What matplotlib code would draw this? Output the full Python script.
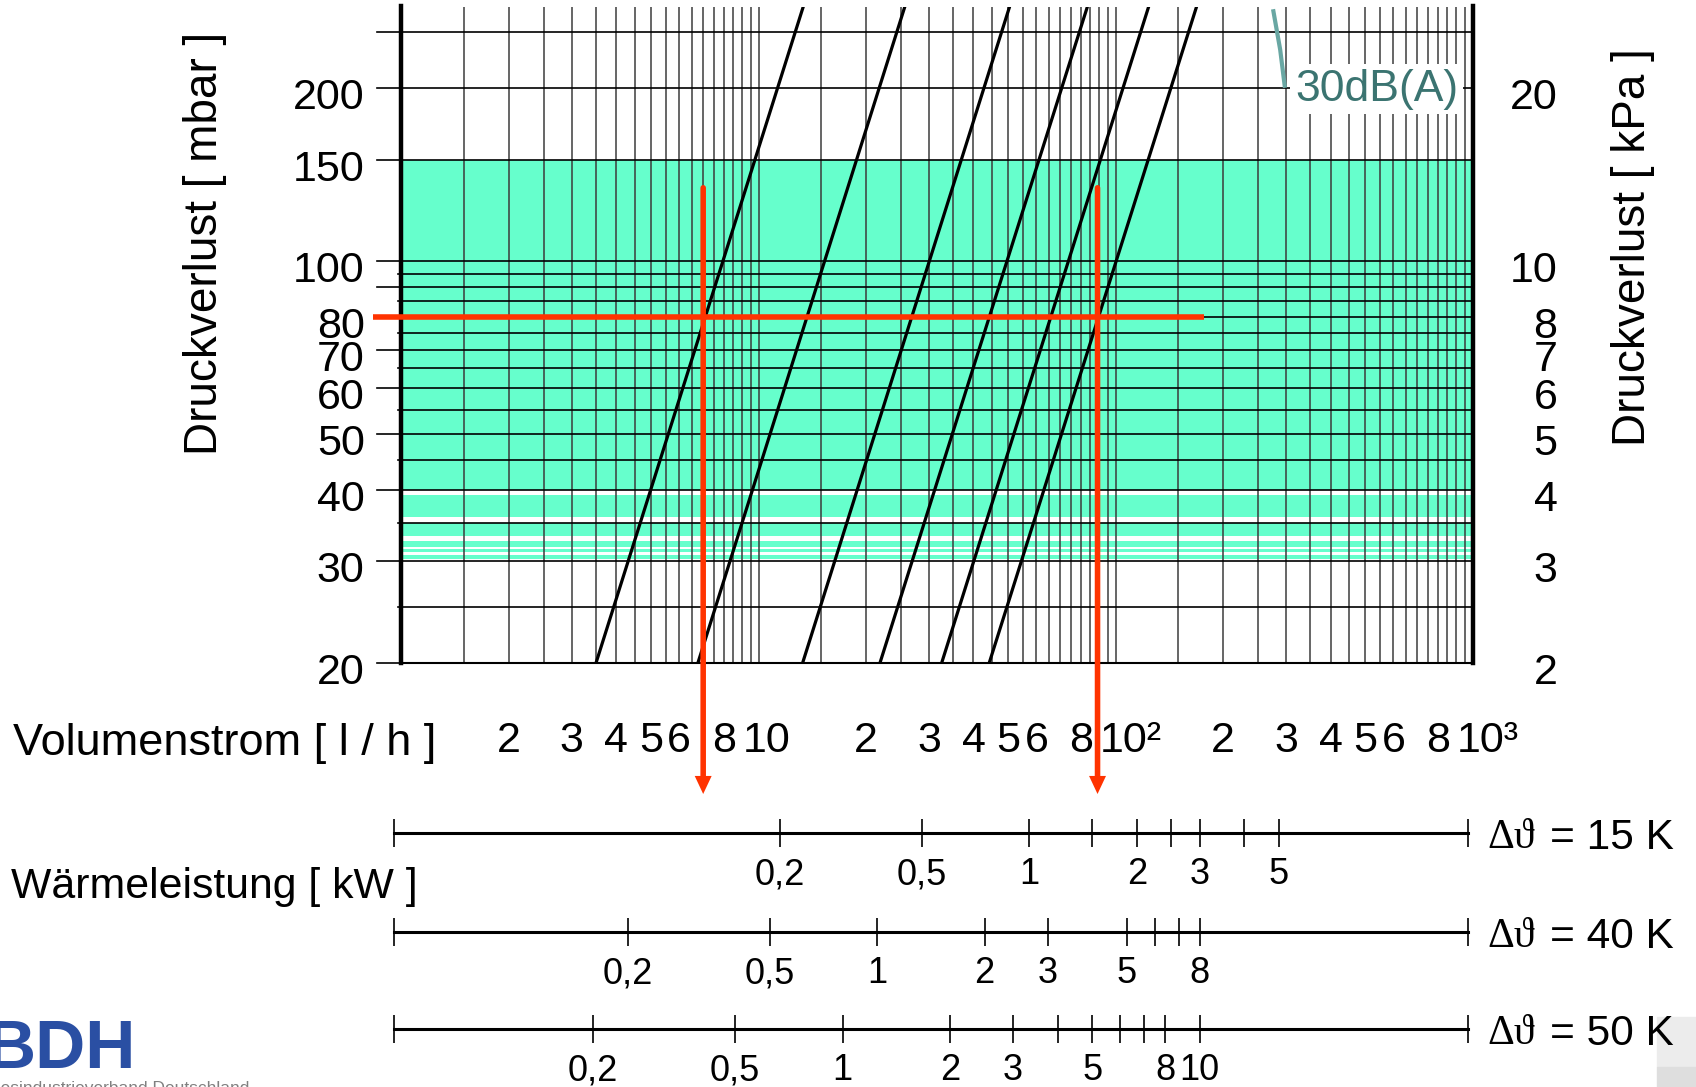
import matplotlib
matplotlib.use("Agg")
import matplotlib.pyplot as plt
from matplotlib.patches import Rectangle
from matplotlib.ticker import NullLocator

plt.rcParams["font.family"] = ["Liberation Sans", "DejaVu Sans"]

W, H = 1696, 1087

########################################
# Data
########################################

# Volumenstrom [l/h] axis and Druckverlust [mbar] axis
FLOW_LIM = (1, 1000)
DP_LIM = (20, 277)

# valve presets: flow at 20 mbar and at 277 mbar
CURVE_DP = [20, 277]
CURVE_Q_LOW = [3.51, 6.77, 13.3, 21.9, 32.6, 44.3]
CURVE_Q_HIGH = [13.35, 25.7, 50.5, 83.4, 123.8, 168.6]

# recommended range (green), with the white gaps near 30..40 mbar
GREEN_BANDS = [(40, 150), (35.9, 39.1), (33.2, 35.0),
               (31.8, 32.5), (31.2, 31.5), (30.3, 30.8)]

H_MAJOR = [20, 30, 40, 50, 60, 70, 80, 90, 100, 150, 200, 250]
H_MINOR = [25, 35, 45, 55, 65, 75, 85, 95]
V_STEPS = [1, 1.5, 2, 2.5, 3, 3.5, 4, 4.5, 5, 5.5, 6, 6.5, 7, 7.5, 8, 8.5, 9, 9.5]
V_DECADES = [1, 10, 100]

MBAR_TICKS = [20, 30, 40, 50, 60, 70, 80, 100, 150, 200]
KPA_TICKS = [2, 3, 4, 5, 6, 7, 8, 10, 20]

FLOW_TICKS = [2, 3, 4, 5, 6, 8,
              20, 30, 40, 50, 60, 80,
              200, 300, 400, 500, 600, 800]
FLOW_LABELS = ["2", "3", "4", "5", "6", "8",
               "2", "3", "4", "5", "6", "8",
               "2", "3", "4", "5", "6", "8"]
DECADE_TICKS = [10, 100, 1000]
DECADE_LABELS = ["10", "10²", "10³"]

# example reading (red)
RED_DP = 80
RED_Q = [7.0, 89.0]
RED_H_Q = [0.83, 177]
RED_V_TOP = 134

# 30 dB(A) limit mark
DB30_Q = [276, 289, 298]
DB30_DP = [274, 233, 200]

# Wärmeleistung scales
SCALE_DT = [15, 40, 50]
SCALE_TICKS = [[0.2, 0.5, 1, 1.5, 2, 2.5, 3, 4, 5],
               [0.2, 0.5, 1, 2, 3, 5, 6, 7, 8],
               [0.2, 0.5, 1, 2, 3, 4, 5, 6, 7, 8, 10]]
SCALE_LABELED = [[0.2, 0.5, 1, 2, 3, 5],
                 [0.2, 0.5, 1, 2, 3, 5, 8],
                 [0.2, 0.5, 1, 2, 3, 5, 8, 10]]
SCALE_FLOW_ENDS = (0.952, 968)

GREEN = "#66FFCC"
RED = "#FF3300"


def fx(x):
    return x / W


def fy(y):
    return 1 - y / H


def kw_label(v):
    return ("%g" % v).replace(".", ",")


fig = plt.figure(figsize=(W / 100, H / 100), dpi=100)

########################################
# Main diagram
########################################

ax = fig.add_axes([fx(401.4), fy(662.6), (1472.7 - 401.4) / W, (662.6 - 6.5) / H])
ax.set_xscale("log")
ax.set_yscale("log")
ax.set_xlim(*FLOW_LIM)
ax.set_ylim(*DP_LIM)

for lo, hi in GREEN_BANDS:
    ax.axhspan(lo, hi, color=GREEN, lw=0, zorder=0)

for d in V_DECADES:
    for s in V_STEPS:
        ax.axvline(s * d, color="#3c3c3c", lw=1.1, zorder=1)

for v in H_MAJOR:
    ax.axhline(v, xmin=-0.0224, xmax=1, color="black", lw=1.2,
               clip_on=False, zorder=1.5)
for v in H_MINOR:
    ax.axhline(v, xmin=-0.0035, xmax=1, color="black", lw=1.2,
               clip_on=False, zorder=1.5)

for lo, hi in zip(CURVE_Q_LOW, CURVE_Q_HIGH):
    ax.plot([lo, hi], CURVE_DP, color="black", lw=2.3, zorder=3,
            solid_capstyle="butt")

ax.spines["top"].set_visible(False)
ax.spines["left"].set_linewidth(3.2)
ax.spines["right"].set_linewidth(3.2)
ax.spines["bottom"].set_linewidth(1.5)
for s in ["left", "right", "bottom"]:
    ax.spines[s].set_zorder(6)

ax.xaxis.set_minor_locator(NullLocator())
ax.yaxis.set_minor_locator(NullLocator())
ax.set_xticks(FLOW_TICKS, FLOW_LABELS)
ax.set_yticks([])
ax.tick_params(axis="x", length=0, pad=42, labelsize=31)

# decade labels sit a little right of their tick, as in the original
for q, lbl, dx in zip(DECADE_TICKS, DECADE_LABELS, [5.8, 10.8, 10.8]):
    ax.annotate(lbl, xy=(q, 0), xycoords=("data", "axes fraction"),
                xytext=(dx, -42), textcoords="offset points",
                ha="center", va="top", fontsize=31, annotation_clip=False)

# pressure tick labels on both sides
for v in MBAR_TICKS:
    ax.annotate(str(v), xy=(0, v), xycoords=("axes fraction", "data"),
                xytext=(-26.5, -7.2), textcoords="offset points",
                ha="right", va="center", fontsize=31)
for k in KPA_TICKS:
    ax.annotate(str(k), xy=(1, k * 10), xycoords=("axes fraction", "data"),
                xytext=(61, -7.2), textcoords="offset points",
                ha="right", va="center", fontsize=31)

# 30 dB(A) mark
ax.plot(DB30_Q, DB30_DP, color="#69A7A3", lw=3, zorder=5,
        solid_capstyle="butt")
ax.text(318, 190, "30dB(A)", color="#3B7471", fontsize=32,
        ha="left", va="baseline", zorder=4,
        bbox=dict(facecolor="white", edgecolor="none", pad=3.5))

# red example reading
ax.plot(RED_H_Q, [RED_DP, RED_DP], color=RED, lw=4, clip_on=False,
        zorder=7, solid_capstyle="butt")
for q in RED_Q:
    ax.annotate("", xy=(q, fy(776)), xycoords=("data", "figure fraction"),
                xytext=(q, RED_V_TOP), textcoords="data",
                arrowprops=dict(arrowstyle="-", color=RED, lw=4,
                                shrinkA=0, shrinkB=0),
                annotation_clip=False, zorder=7)
    ax.annotate("", xy=(q, fy(794)), xycoords=("data", "figure fraction"),
                xytext=(q, fy(776)), textcoords=("data", "figure fraction"),
                arrowprops=dict(arrowstyle="-|>,head_length=1.3,head_width=0.61",
                                mutation_scale=10, color=RED, lw=0,
                                shrinkA=0, shrinkB=0),
                annotation_clip=False, zorder=7)

fig.text(fx(205), fy(243), "Druckverlust [ mbar ]", rotation=90,
         ha="center", va="center", fontsize=33)
fig.text(fx(1633), fy(247), "Druckverlust [ kPa ]", rotation=90,
         ha="center", va="center", fontsize=33)
fig.text(fx(13), fy(743), "Volumenstrom [ l / h ]",
         ha="left", va="center", fontsize=32.5)

########################################
# Wärmeleistung scales
########################################

fig.text(fx(11), fy(887), "Wärmeleistung [ kW ]",
         ha="left", va="center", fontsize=30.8)

scale_y = [832.8, 931.8, 1029.0]

for dt, ticks, labeled, ly in zip(SCALE_DT, SCALE_TICKS, SCALE_LABELED, scale_y):
    sa = fig.add_axes([fx(393.7), fy(ly + 14), (1467.7 - 393.7) / W, 28 / H])
    sa.set_xscale("log")
    lims = (SCALE_FLOW_ENDS[0] * dt / 860, SCALE_FLOW_ENDS[1] * dt / 860)
    sa.set_xlim(*lims)
    sa.set_ylim(-1, 1)
    sa.axis("off")
    sa.plot(lims, [0, 0], color="black", lw=2.2, clip_on=False)
    sa.vlines(list(lims) + ticks, -1, 1, color="black", lw=1.2, clip_on=False)
    for v in labeled:
        sa.annotate(kw_label(v), xy=(v, 0), xytext=(0, -30.2),
                    textcoords="offset points", ha="center", va="center",
                    fontsize=26, annotation_clip=False)
    fig.text(fx(1487), fy(ly + 5), "Δϑ", family=["Liberation Serif", "DejaVu Serif"],
             ha="left", va="center", fontsize=30, zorder=5)
    fig.text(fx(1550), fy(ly + 5), "= %d K" % dt,
             ha="left", va="center", fontsize=30.5, zorder=5)

########################################
# Slide leftovers: logo and grey box
########################################

fig.patches.append(Rectangle((fx(1657), fy(1067)), (W - 1657) / W, 50 / H,
                             transform=fig.transFigure, color="#ECECEC", zorder=0))
fig.patches.append(Rectangle((fx(1657), 0), (W - 1657) / W, 20 / H,
                             transform=fig.transFigure, color="#DEDEDE", zorder=0))

fig.text(fx(136), fy(1068), "BDH", color="#2A4FA3", fontsize=50,
         fontweight="bold", ha="right", va="baseline")
fig.text(fx(249), fy(1093), "Bundesindustrieverband Deutschland",
         color="#808080", fontsize=12.5, ha="right", va="baseline")

plt.savefig("out.png", dpi=100)
plt.close()
